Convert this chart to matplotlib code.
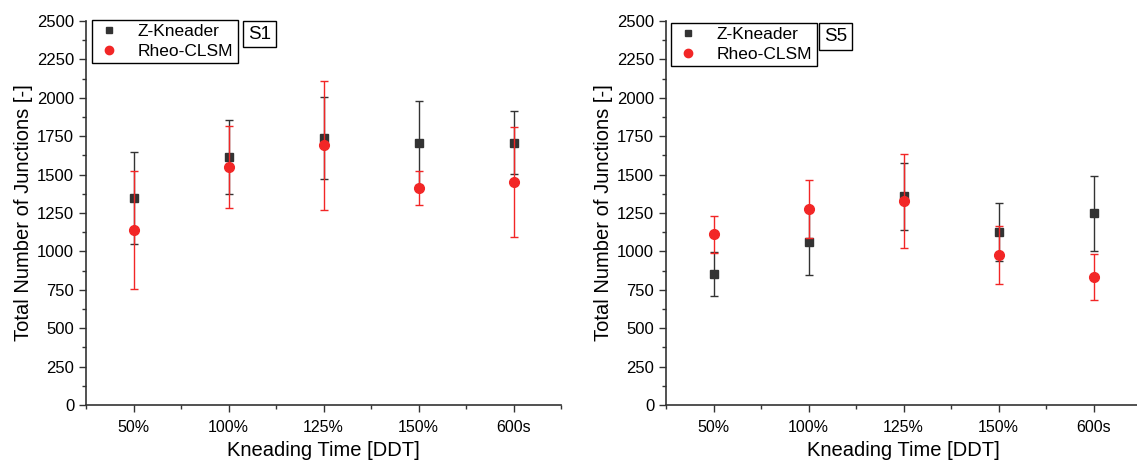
import numpy as np
import matplotlib.pyplot as plt
from matplotlib.lines import Line2D

plt.rcParams['font.family'] = ['Liberation Sans', 'DejaVu Sans']

categories = ['50%', '100%', '125%', '150%', '600s']

# S1 panel
s1_z_mean = [1346, 1615, 1737, 1705, 1708]
s1_z_err = [300, 240, 265, 275, 205]
s1_r_mean = [1140, 1548, 1692, 1412, 1454]
s1_r_err = [385, 268, 420, 110, 357]

# S5 panel
s5_z_mean = [855, 1061, 1360, 1127, 1248]
s5_z_err = [143, 213, 218, 190, 246]
s5_r_mean = [1111, 1274, 1328, 978, 836]
s5_r_err = [120, 190, 307, 187, 150]

dark = '#333333'
red = '#f22626'

fig = plt.figure(figsize=(11.37, 4.65), dpi=100)
ax1 = fig.add_axes([86/1137, 60/465, 475/1137, 384/465])
ax2 = fig.add_axes([666/1137, 60/465, 475/1137, 384/465])


def draw(ax, z_mean, z_err, r_mean, r_err, tag, leg_xy, tag_xy):
    x = np.arange(1, len(categories) + 1)
    ax.errorbar(x, z_mean, yerr=z_err, fmt='s', color=dark, ecolor=dark,
                ms=6, elinewidth=1, capsize=3, capthick=1, zorder=3)
    ax.errorbar(x, r_mean, yerr=r_err, fmt='o', color=red, ecolor=red,
                ms=7, elinewidth=1, capsize=3, capthick=1, zorder=4)
    ax.set_xlim(0.5, 5.5)
    ax.set_ylim(0, 2500)
    ax.set_yticks(np.arange(0, 2501, 250))
    ax.set_yticks(np.arange(0, 2501, 125), minor=True)
    ax.set_xticks(x)
    ax.set_xticklabels(categories)
    ax.set_xticks(np.arange(0.5, 5.6, 1.0), minor=True)
    ax.tick_params(axis='x', which='major', length=5, width=1, color=dark,
                   pad=6, labelsize=11.5)
    ax.tick_params(axis='x', which='minor', length=3, width=1, color=dark)
    ax.tick_params(axis='y', which='major', length=5, width=1, color=dark,
                   labelsize=12)
    ax.tick_params(axis='y', which='minor', length=3, width=1, color=dark)
    for s in ['top', 'right']:
        ax.spines[s].set_visible(False)
    for s in ['left', 'bottom']:
        ax.spines[s].set_color(dark)
        ax.spines[s].set_linewidth(1.2)
    ax.set_xlabel('Kneading Time [DDT]', fontsize=14.5, labelpad=4)
    ax.set_ylabel('Total Number of Junctions [-]', fontsize=14.5, labelpad=3)

    handles = [Line2D([], [], ls='none', marker='s', color=dark, ms=5),
               Line2D([], [], ls='none', marker='o', color=red, ms=6)]
    leg = ax.legend(handles, ['Z-Kneader', 'Rheo-CLSM'], loc='upper left',
                    bbox_to_anchor=leg_xy, fontsize=12.5, frameon=True,
                    fancybox=False, edgecolor='black', framealpha=1,
                    borderpad=0.25, labelspacing=0.25, handletextpad=0.9,
                    handlelength=1.5, borderaxespad=0)
    leg.get_frame().set_linewidth(1)
    ax.text(tag_xy[0], tag_xy[1], tag, transform=ax.transAxes, fontsize=13.5,
            va='center', ha='center',
            bbox=dict(boxstyle='square,pad=0.25', fc='white', ec='black', lw=1))


draw(ax1, s1_z_mean, s1_z_err, s1_r_mean, s1_r_err, 'S1',
     (0.0126, 1.003), (0.365, 0.966))
draw(ax2, s5_z_mean, s5_z_err, s5_r_mean, s5_r_err, 'S5',
     (0.0105, 0.995), (0.357, 0.960))

fig.savefig('out.png', dpi=100)
